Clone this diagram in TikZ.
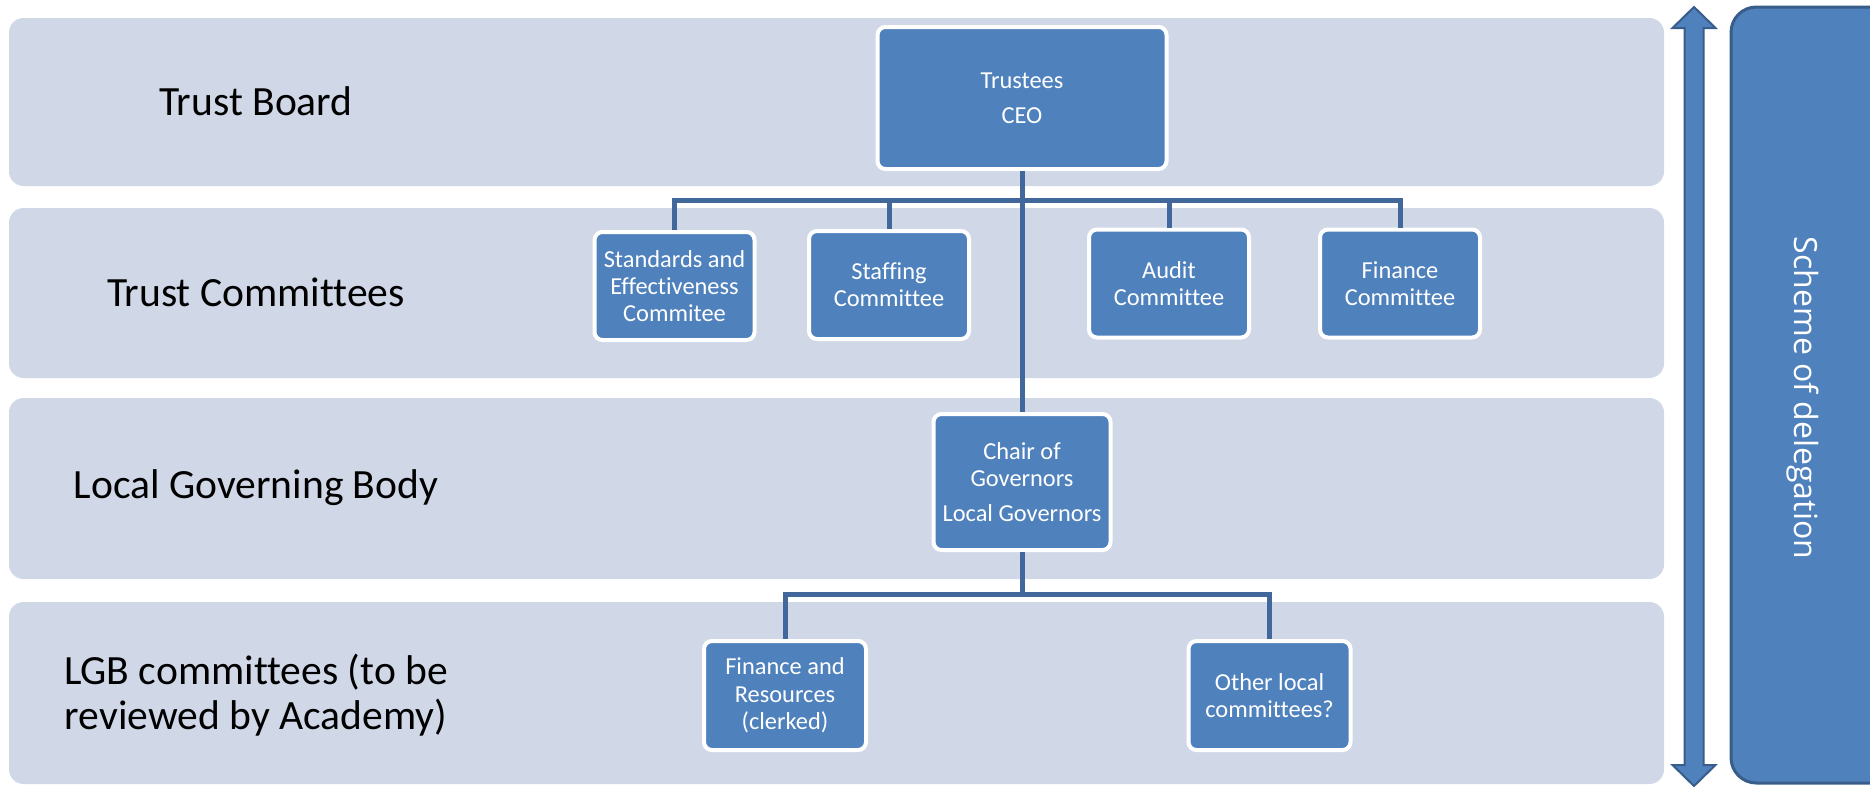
\documentclass[tikz,border=0pt]{standalone}
\usepackage{fontspec}
\setmainfont[Ligatures=NoCommon]{Carlito}
\newfontfamily\schemefont{Open Sans}
\definecolor{bandfill}{HTML}{D0D8E8}
\definecolor{boxfill}{HTML}{4F81BD}
\definecolor{boxedge}{HTML}{385D8A}
\definecolor{linkcol}{HTML}{41679B}
\begin{document}
\begin{tikzpicture}[x=0.75pt,y=-0.75pt,
  band/.style={fill=bandfill, rounded corners=11pt},
  orgbox/.style={draw=white, line width=3pt, fill=boxfill, rounded corners=6pt,
    text=white, align=center, inner sep=2pt,
    font=\fontsize{18.3}{20.5}\selectfont},
  cbox/.style={minimum width=120pt, minimum height=81pt},
  lbox/.style={minimum width=121.5pt, minimum height=81.75pt},
  bandlabel/.style={align=center, font=\fontsize{31.2}{34}\selectfont, text=black},
  link/.style={draw=linkcol, line width=3.75pt, line join=miter}]
\useasboundingbox (0,0) rectangle (1870,786);
% bands
\fill[band] (9,18) rectangle (1664,186);
\fill[band] (9,208) rectangle (1664,378);
\fill[band] (9,398) rectangle (1664,579);
\fill[band] (9,602) rectangle (1664,784);
% band labels
\node[bandlabel] (lab1) at (256,101) {Trust Board};
\node[bandlabel] (lab2) at (256,292) {Trust Committees};
\node[bandlabel] (lab3) at (256,488) {Local Governing Body};
\node[bandlabel] (lab4) at (256,695) {LGB committees (to be\\reviewed by Academy)};
% org boxes
\node[orgbox, minimum width=216.75pt, minimum height=106.5pt] (trustees) at (1022,98) {Trustees\\[6pt]CEO};
\node[orgbox,cbox] (std) at (674.5,286) {Standards and\\Effectiveness\\Commitee};
\node[orgbox,cbox] (staff) at (889,285) {Staffing\\Committee};
\node[orgbox,cbox] (audit) at (1169,283.5) {Audit\\Committee};
\node[orgbox,cbox] (fin) at (1400,283.5) {Finance\\Committee};
\node[orgbox, minimum width=132.75pt, minimum height=102pt] (chair) at (1022,482) {Chair of\\Governors\\[6pt]Local Governors};
\node[orgbox,lbox] (finres) at (785,695.5) {Finance and\\Resources\\(clerked)};
\node[orgbox,lbox] (other) at (1269.5,695.5) {Other local\\committees?};
% connectors
\coordinate (busA) at (1022,200);
\coordinate (busB) at (1022,594);
\draw[link] (std.north) |- (busA) -| (fin.north);
\draw[link] (staff.north) -- (staff.north |- busA);
\draw[link] (audit.north) -- (audit.north |- busA);
\draw[link] (trustees.south) -- (chair.north);
\draw[link] (chair.south) -- (busB);
\draw[link] (finres.north) |- (busB) -| (other.north);
% double arrow
\draw[draw=boxedge, fill=boxfill, line width=1.5pt, line join=miter]
  (1694,7) -- (1715.5,28) -- (1703.5,28) -- (1703.5,765) -- (1715.5,765)
  -- (1694,786) -- (1672.5,765) -- (1684.5,765) -- (1684.5,28) -- (1672.5,28) -- cycle;
% scheme box
\draw[draw=boxedge, fill=boxfill, line width=2.25pt, rounded corners=19pt] (1731,7) rectangle (1930,783);
\node[rotate=-90, text=white, font=\schemefont\fontsize{24}{27}\selectfont] (scheme) at (1803,398) {Scheme of delegation};
\end{tikzpicture}
\end{document}
